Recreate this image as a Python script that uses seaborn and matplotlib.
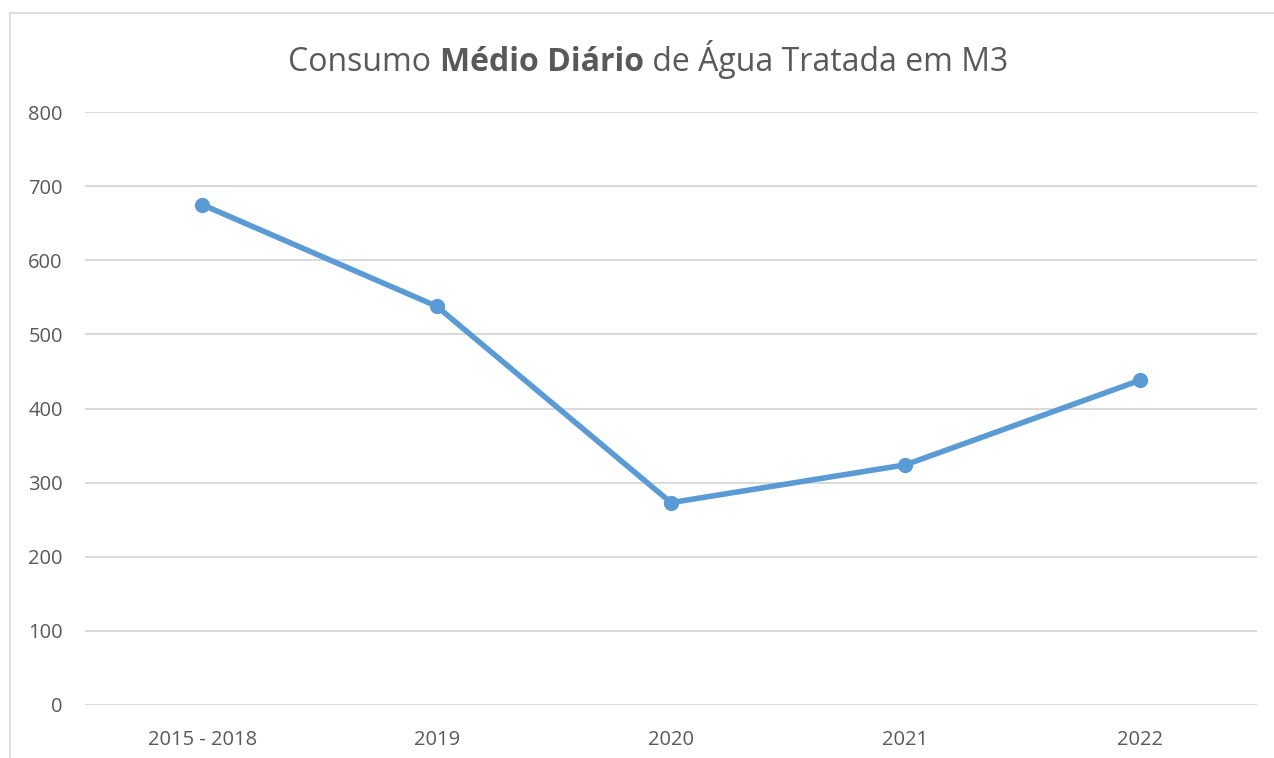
import matplotlib
matplotlib.use("Agg")
import matplotlib.pyplot as plt
import seaborn as sns
import pandas as pd
from matplotlib.patches import Rectangle

# Data
periods = ["2015 - 2018", "2019", "2020", "2021", "2022"]
consumo = [675, 538, 273, 324, 438]
y_ticks = [0, 100, 200, 300, 400, 500, 600, 700, 800]

df = pd.DataFrame({"periodo": periods, "consumo": consumo})

sns.set_style("white")
plt.rcParams["font.family"] = ["Open Sans", "DejaVu Sans"]

fig = plt.figure(figsize=(12.74, 7.58), dpi=100)
ax = fig.add_axes([85 / 1274, 53 / 758, 1172 / 1274, 593 / 758])

sns.lineplot(data=df, x="periodo", y="consumo", ax=ax, color="#5B9BD5",
             linewidth=4, marker="o", markersize=11, markeredgewidth=0,
             sort=False)

ax.set_xlim(-0.5, len(periods) - 0.5)
ax.set_ylim(0, 800)
ax.set_yticks(y_ticks)
ax.grid(axis="y", color="#D9D9D9", linewidth=1.4)
ax.set_axisbelow(True)
for s in ax.spines.values():
    s.set_visible(False)
ax.set_xlabel("")
ax.set_ylabel("")
ax.tick_params(axis="both", length=0, colors="#595959", labelsize=14.5)
ax.tick_params(axis="x", pad=18)
ax.tick_params(axis="y", pad=16)

# outer chart frame
fig.patches.append(Rectangle((10 / 1274, -0.01), 1.1, (758 - 13) / 758 + 0.01,
                             transform=fig.transFigure, fill=False,
                             edgecolor="#D9D9D9", linewidth=1.2))

# title with bold middle part
parts = [("Consumo ", "normal"), ("Médio Diário", "bold"),
         (" de Água Tratada em M3", "normal")]
renderer = fig.canvas.get_renderer()
texts = []
widths = []
for txt, w in parts:
    t = fig.text(0, 1 - 71 / 758, txt, fontsize=23, fontweight=w,
                 color="#595959", va="baseline", ha="left")
    texts.append(t)
    widths.append(t.get_window_extent(renderer).width)
total = sum(widths)
x0 = 648 - total / 2
for t, wd in zip(texts, widths):
    t.set_x(x0 / 1274)
    x0 += wd

fig.savefig("out.png", dpi=100)
